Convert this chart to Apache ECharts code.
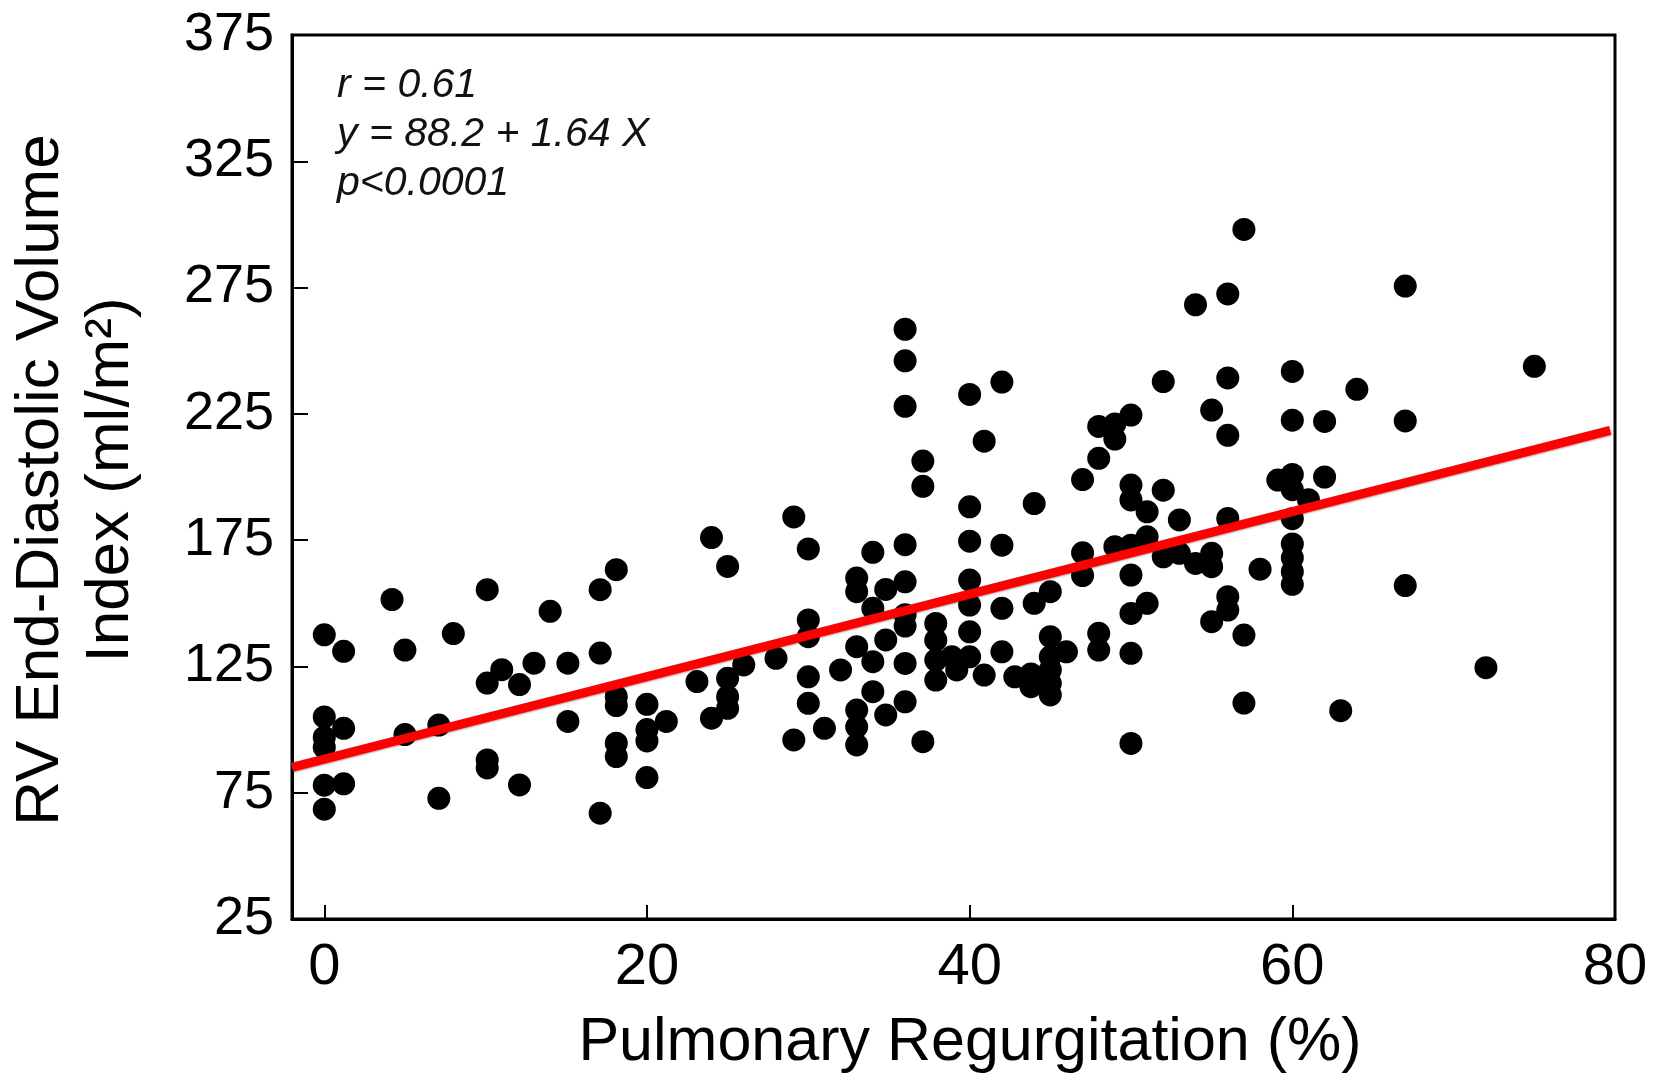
<!DOCTYPE html>
<html>
<head>
<meta charset="utf-8">
<script src="https://cdn.jsdelivr.net/npm/echarts@6/dist/echarts.min.js"></script>
<style>
html,body{margin:0;padding:0;background:#fff;}
#chart{width:1663px;height:1083px;}
</style>
</head>
<body>
<div id="chart"></div>
<script>
// Pulmonary regurgitation (%) for each patient
const prPercent = [
  0,0,0,0,0,0, 1.2,1.2,1.2, 4.2, 5,5, 8, 7.1,7.1,
  10.1,10.1,10.1,10.1, 11, 12.1,12.1, 13, 14, 15.1,15.1,
  17.1,17.1,17.1, 18.1,18.1,18.1,18.1,18.1, 20,20,20,20, 21.2,
  23.1, 24,24, 25,25,25,25, 26, 28, 29.1,29.1,
  30,30,30,30,30, 31, 32, 33,33,33,33,33,33, 34,34,34,34,
  34.8,34.8,34.8, 36,36,36,36,36,36,36,36,36, 37.1,37.1,37.1,
  37.9,37.9,37.9,37.9, 38.9, 39.2, 40,40,40,40,40,40,40,
  40.9,40.9, 42,42,42,42, 42.8, 43.8,43.8, 44,44,
  45,45,45,45,45,45, 46, 47,47,47, 48,48,48,48, 49,49,49,
  50,50,50,50,50,50,50,50, 51,51,51, 52,52,52, 53,53, 54,54,
  55,55,55,55, 56,56,56,56,56,56, 57,57,57, 58, 59.1,
  60,60,60,60,60,60,60,60,60, 61, 62,62, 63, 64, 67,67,67, 72, 75
];
// RV end-diastolic volume index (ml/m2), same order
const rvedvi = [
  137.5,105,97,93,78,68.5, 131,100.5,78.5, 151.5, 131.5,98, 138, 101.8,72.8,
  155.4,118.4,88,84.8, 123.7, 117.8,78.1, 126.3, 146.8, 126.3,103.2,
  155.4,130.3,66.9, 163.3,113,109.5,94.6,89.3, 110,100,95.5,81, 103.2,
  119, 176,104.5, 164.6,120.3,113,108.4, 125.6, 128.2, 184.2,95.9,
  171.5,143.4,136.8,120.9,110.4, 100.5, 123.6, 160,154.6,132.8,107.7,101.1,93.9, 170.2,148,126.9,115,
  155.5,135.5,105.8, 258.5,246,228,173.2,158.5,145.5,141,126.2,111, 206.3,196.3,95.2,
  142,135.4,127.5,119.6, 128.8, 123.6, 232.7,188.2,174.6,159.2,149.3,138.7,128.8,
  214.2,121.6, 237.6,173,148,130.8, 120.9, 122,117, 189.5,150,
  154.6,136.8,128.8,123.6,118.3,113.7, 130.8, 199,170,161, 220,207.4,138.1,131.5, 221,215,172.4,
  224.5,196.8,190.9,173,161.2,146,130.2,94.5, 186.2,176.3,150, 237.8,194.8,168.4, 183,169.8, 268.2,165.8,
  226.5,169.8,164.5,142.7, 272.5,239.2,216.5,183.6,152.6,147.3, 298,137.4,110.5, 163.5, 198.8,
  241.8,222.5,201,195,183.5,173.5,168,162.5,157.5, 191, 222,200, 107.5, 234.7, 275.6,222.2,157, 124.5, 243.8
];
// Regression line end points as drawn (x, y)
const fitLineX = [-2, 79.7];
const fitLineY = [85, 218.5];

const xTicks = [0, 20, 40, 60, 80];
const yTicks = [25, 75, 125, 175, 225, 275, 325, 375];
const statsLines = ['r = 0.61', 'y = 88.2 + 1.64 X', 'p<0.0001'];
const xTitle = 'Pulmonary Regurgitation (%)';
const yTitleLines = ['RV End-Diastolic Volume', 'Index (ml/m²)'];

const points = prPercent.map((x, i) => [x, rvedvi[i]]);
const fitLine = fitLineX.map((x, i) => [x, fitLineY[i]]);

const FONT = '"Liberation Sans", Arial, Helvetica, sans-serif';
const chart = echarts.init(document.getElementById('chart'), null, {renderer: 'canvas'});

chart.setOption({
  animation: false,
  backgroundColor: '#ffffff',
  grid: {
    left: 292, right: 48, top: 35, bottom: 164,
    show: true, borderColor: '#000', borderWidth: 3, backgroundColor: 'transparent'
  },
  xAxis: {
    type: 'value', min: -2, max: 80,
    splitLine: {show: false},
    axisLine: {show: true, onZero: false, lineStyle: {color: '#000', width: 3}},
    axisTick: {show: true, inside: true, length: 14, lineStyle: {color: '#000', width: 2}, customValues: xTicks},
    axisLabel: {show: true, customValues: xTicks, margin: 20, color: '#000', fontSize: 58, fontFamily: FONT}
  },
  yAxis: {
    type: 'value', min: 25, max: 375,
    splitLine: {show: false},
    axisLine: {show: true, onZero: false, lineStyle: {color: '#000', width: 3}},
    axisTick: {show: true, inside: true, length: 16, lineStyle: {color: '#000', width: 2}, customValues: yTicks},
    axisLabel: {show: true, customValues: yTicks, margin: 18, color: '#000', fontSize: 54, fontFamily: FONT}
  },
  graphic: [
    {
      type: 'text', left: 337, top: 61, z: 10,
      style: {
        text: statsLines.join('\n'), fill: '#111', font: 'italic 41px ' + FONT,
        lineHeight: 49
      }
    },
    {
      type: 'text', x: 970, y: 1043, z: 10,
      style: {
        text: xTitle, fill: '#000', font: '61px ' + FONT,
        align: 'center', verticalAlign: 'middle'
      }
    },
    {
      type: 'text', x: 76, y: 480, rotation: Math.PI / 2, z: 10,
      style: {
        text: yTitleLines.join('\n'), fill: '#000', font: '62px ' + FONT,
        align: 'center', verticalAlign: 'middle', lineHeight: 70
      }
    }
  ],
  series: [
    {
      type: 'scatter',
      data: points,
      symbol: 'circle',
      symbolSize: 23,
      itemStyle: {color: '#000', opacity: 1},
      z: 2
    },
    {
      type: 'line',
      data: fitLine,
      showSymbol: false,
      symbol: 'none',
      lineStyle: {color: '#ff0000', width: 9, shadowColor: 'rgba(0,0,0,0.35)', shadowBlur: 2, shadowOffsetY: 1},
      z: 5
    }
  ]
});
</script>
</body>
</html>
